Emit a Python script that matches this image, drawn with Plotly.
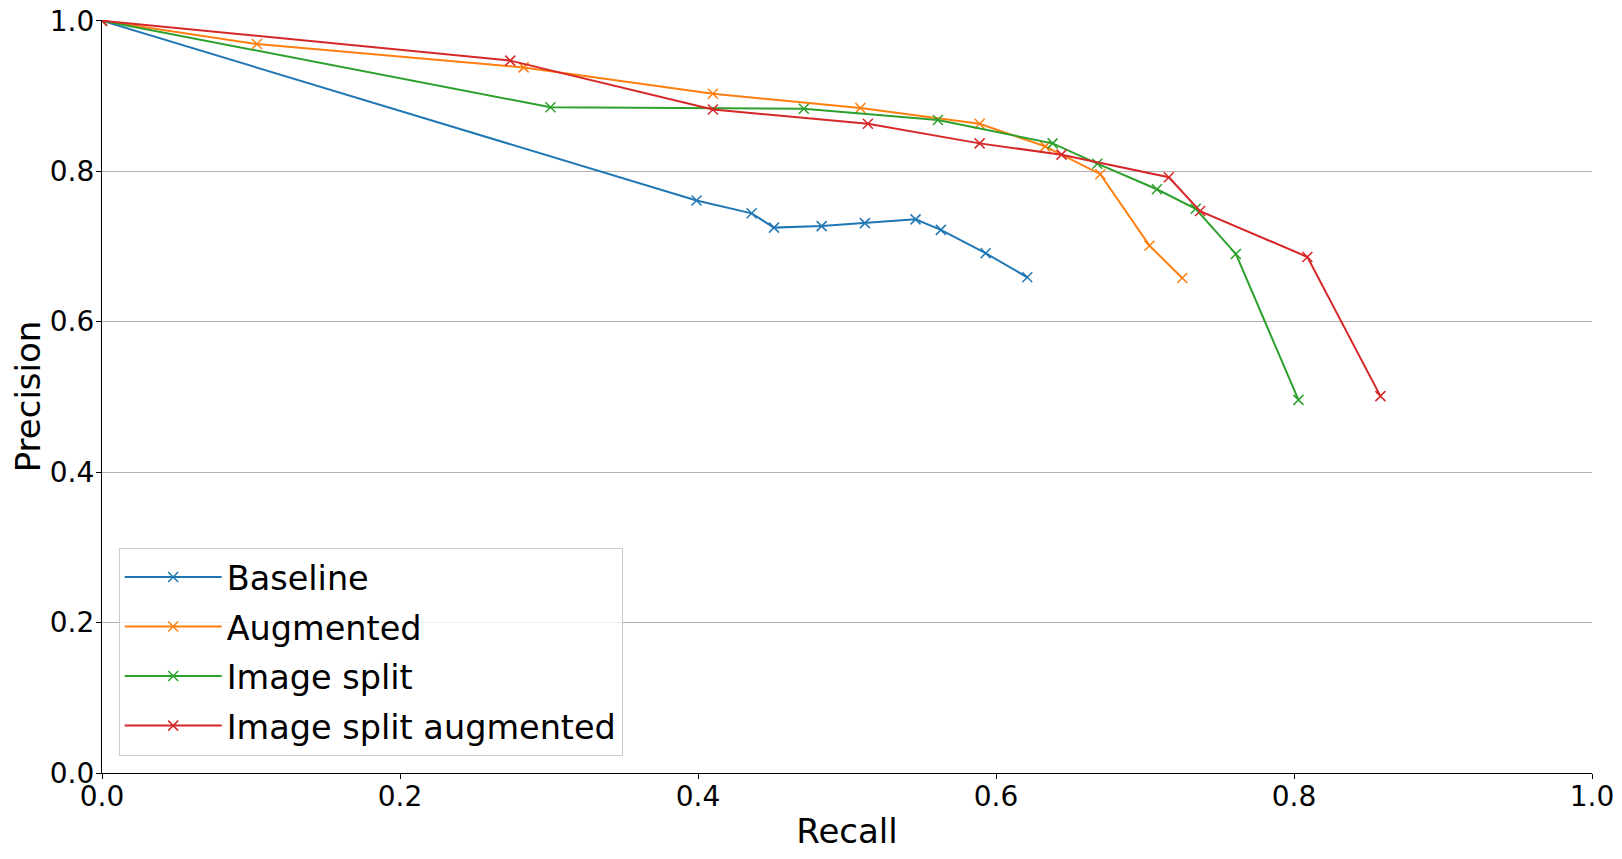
import plotly.graph_objects as go

series_names = ["Baseline", "Augmented", "Image split", "Image split augmented"]
colors = ["#1f77b4", "#ff7f0e", "#2ca02c", "#d62728"]

baseline_recall = [0.0, 0.399, 0.436, 0.451, 0.483, 0.512, 0.546, 0.563, 0.593, 0.621]
baseline_precision = [1.0, 0.761, 0.744, 0.725, 0.727, 0.731, 0.736, 0.722, 0.691, 0.659]

augmented_recall = [0.0, 0.104, 0.283, 0.410, 0.509, 0.589, 0.633, 0.670, 0.703, 0.725]
augmented_precision = [1.0, 0.969, 0.938, 0.903, 0.884, 0.863, 0.833, 0.796, 0.701, 0.658]

split_recall = [0.0, 0.301, 0.471, 0.561, 0.638, 0.668, 0.708, 0.734, 0.761, 0.803]
split_precision = [1.0, 0.885, 0.883, 0.868, 0.837, 0.810, 0.776, 0.750, 0.690, 0.496]

split_aug_recall = [0.0, 0.274, 0.410, 0.514, 0.589, 0.644, 0.716, 0.737, 0.809, 0.858]
split_aug_precision = [1.0, 0.947, 0.882, 0.863, 0.837, 0.822, 0.792, 0.747, 0.686, 0.501]

tick_vals = [0.0, 0.2, 0.4, 0.6, 0.8, 1.0]
tick_text = ["0.0", "0.2", "0.4", "0.6", "0.8", "1.0"]

data = [
    (baseline_recall, baseline_precision),
    (augmented_recall, augmented_precision),
    (split_recall, split_precision),
    (split_aug_recall, split_aug_precision),
]

fig = go.Figure()
for name, color, (xs, ys) in zip(series_names, colors, data):
    fig.add_trace(go.Scatter(
        x=xs, y=ys, name=name, legendgroup=name, mode="lines+markers",
        line=dict(color=color, width=2),
        marker=dict(symbol="x-thin", size=10, color=color,
                    line=dict(color=color, width=1.5)),
    ))

font_family = "DejaVu Sans"
fig.update_layout(
    width=1614, height=843,
    margin=dict(l=94, r=30, t=12, b=78, autoexpand=False),
    paper_bgcolor="white", plot_bgcolor="white",
    font=dict(family=font_family, color="black"),
    showlegend=True,
    legend=dict(
        x=0.0112, y=0.023, xanchor="left", yanchor="bottom",
        bgcolor="rgba(255,255,255,0.8)", bordercolor="#cccccc", borderwidth=1,
        font=dict(size=33.5, family=font_family, color="black"),
        tracegroupgap=3, itemwidth=97,
    ),
    xaxis=dict(
        range=[0, 1], tickvals=tick_vals, ticktext=tick_text,
        showgrid=False, zeroline=False, automargin=False,
        showline=True, linecolor="black", linewidth=1.3, mirror=False,
        ticks="outside", ticklen=5, tickwidth=1.3, tickcolor="black",
        ticklabelstandoff=-7, ticklabeloverflow="allow",
        tickfont=dict(size=28, family=font_family, color="black"),
        title=dict(text="Recall", font=dict(size=34, family=font_family, color="black"), standoff=7),
    ),
    yaxis=dict(
        range=[0, 1.001], tickvals=tick_vals, ticktext=tick_text,
        showgrid=True, gridcolor="#b0b0b0", gridwidth=1, zeroline=False, automargin=False,
        showline=True, linecolor="black", linewidth=1.3, mirror=False,
        ticks="outside", ticklen=5, tickwidth=1.3, tickcolor="black",
        ticklabelstandoff=-4, ticklabeloverflow="allow",
        tickfont=dict(size=28, family=font_family, color="black"),
        title=dict(text="Precision", font=dict(size=34, family=font_family, color="black"), standoff=4),
    ),
)

fig.write_html("out.html")
